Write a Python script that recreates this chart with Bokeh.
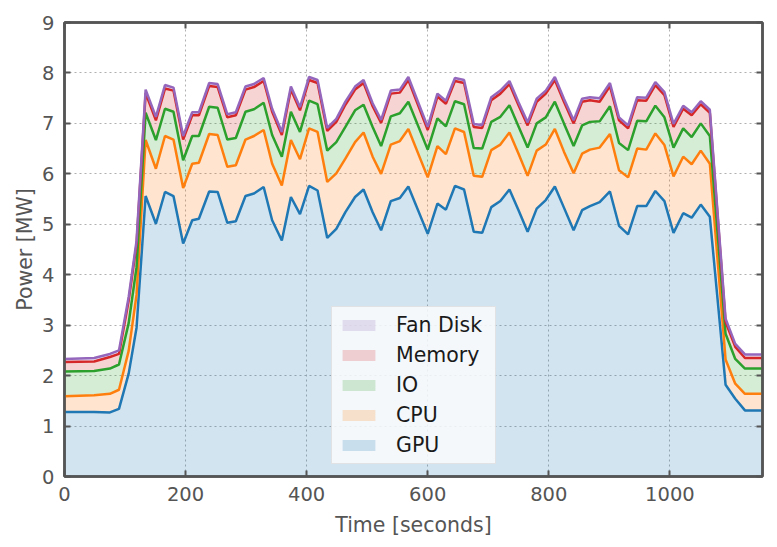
from bokeh.plotting import figure
from bokeh.models import ColumnDataSource, Legend, LegendItem, LinearAxis, SingleIntervalTicker, Range1d
from bokeh.embed import file_html
from bokeh.resources import INLINE

time_s = [0, 49, 75, 90, 106, 119, 134, 151, 166, 180, 196, 211, 222, 239, 253, 269, 283, 299, 313, 329,
          343, 359, 374, 389, 404, 418, 434, 449, 464, 480, 494, 509, 523, 539, 554, 568, 600, 616, 630, 645,
          660, 676, 690, 705, 720, 735, 750, 765, 780, 795, 810, 825, 841, 855, 868, 884, 901, 916, 931, 946,
          961, 976, 991, 1006, 1022, 1036, 1051, 1066, 1092, 1108, 1124, 1153]

gpu = [1.28, 1.28, 1.27, 1.34, 2.04, 2.95, 5.56, 5.01, 5.64, 5.56,
       4.62, 5.08, 5.11, 5.65, 5.64, 5.03, 5.06, 5.56, 5.61, 5.74,
       5.08, 4.68, 5.54, 5.20, 5.76, 5.67, 4.73, 4.91, 5.24, 5.54,
       5.69, 5.24, 4.88, 5.46, 5.52, 5.75, 4.81, 5.41, 5.29, 5.76,
       5.69, 4.85, 4.83, 5.34, 5.46, 5.69, 5.28, 4.85, 5.31, 5.48,
       5.75, 5.33, 4.88, 5.28, 5.36, 5.44, 5.65, 4.97, 4.80, 5.36,
       5.36, 5.66, 5.46, 4.83, 5.22, 5.13, 5.39, 5.15, 1.82, 1.54,
       1.31, 1.31]

cpu = [0.31, 0.33, 0.37, 0.38, 0.45, 0.65, 1.11, 1.09, 1.11, 1.12,
       1.10, 1.12, 1.11, 1.14, 1.13, 1.11, 1.11, 1.12, 1.14, 1.13,
       1.12, 1.09, 1.13, 1.09, 1.14, 1.16, 1.11, 1.10, 1.06, 1.09,
       1.13, 1.10, 1.12, 1.12, 1.13, 1.14, 1.12, 1.14, 1.10, 1.14,
       1.14, 1.11, 1.11, 1.13, 1.12, 1.13, 1.12, 1.11, 1.15, 1.10,
       1.14, 1.11, 1.13, 1.12, 1.12, 1.08, 1.14, 1.10, 1.13, 1.14,
       1.12, 1.14, 1.11, 1.12, 1.12, 1.06, 1.07, 1.05, 0.50, 0.30,
       0.33, 0.33]

io = [0.49, 0.48, 0.50, 0.50, 0.55, 0.55, 0.54, 0.57, 0.54, 0.55,
      0.55, 0.55, 0.53, 0.54, 0.54, 0.54, 0.54, 0.55, 0.53, 0.54,
      0.57, 0.57, 0.56, 0.54, 0.55, 0.55, 0.62, 0.62, 0.63, 0.63,
      0.55, 0.59, 0.55, 0.56, 0.55, 0.54, 0.55, 0.55, 0.55, 0.54,
      0.55, 0.55, 0.56, 0.56, 0.55, 0.54, 0.54, 0.56, 0.54, 0.54,
      0.54, 0.56, 0.54, 0.56, 0.55, 0.52, 0.55, 0.54, 0.54, 0.55,
      0.56, 0.55, 0.55, 0.57, 0.56, 0.54, 0.54, 0.55, 0.51, 0.49,
      0.50, 0.50]

memory = [0.19, 0.19, 0.23, 0.21, 0.45, 0.45, 0.39, 0.39, 0.40, 0.42,
          0.41, 0.41, 0.41, 0.41, 0.41, 0.44, 0.45, 0.44, 0.44, 0.43,
          0.46, 0.43, 0.44, 0.43, 0.41, 0.42, 0.39, 0.40, 0.44, 0.41,
          0.43, 0.41, 0.46, 0.45, 0.41, 0.43, 0.39, 0.43, 0.45, 0.40,
          0.42, 0.42, 0.41, 0.43, 0.46, 0.42, 0.42, 0.44, 0.43, 0.47,
          0.43, 0.43, 0.45, 0.47, 0.43, 0.39, 0.40, 0.45, 0.43, 0.41,
          0.41, 0.41, 0.44, 0.41, 0.39, 0.43, 0.38, 0.46, 0.23, 0.24,
          0.21, 0.21]

fan_disk = [0.06, 0.07, 0.06, 0.07, 0.07, 0.07, 0.07, 0.07, 0.07, 0.06,
            0.07, 0.06, 0.06, 0.06, 0.06, 0.06, 0.06, 0.06, 0.06, 0.06,
            0.06, 0.06, 0.06, 0.06, 0.06, 0.06, 0.06, 0.06, 0.06, 0.06,
            0.06, 0.06, 0.06, 0.06, 0.06, 0.06, 0.06, 0.06, 0.06, 0.06,
            0.06, 0.06, 0.06, 0.06, 0.06, 0.06, 0.06, 0.06, 0.06, 0.06,
            0.06, 0.06, 0.06, 0.06, 0.06, 0.07, 0.06, 0.06, 0.06, 0.06,
            0.06, 0.06, 0.06, 0.06, 0.06, 0.06, 0.06, 0.06, 0.07, 0.06,
            0.07, 0.07]

series_names = ["GPU", "CPU", "IO", "Memory", "Fan Disk"]
series_keys = ["gpu", "cpu", "io", "memory", "fan_disk"]
colors = ["#1f77b4", "#ff7f0e", "#2ca02c", "#d62728", "#9467bd"]

source = ColumnDataSource(dict(time=time_s, gpu=gpu, cpu=cpu, io=io, memory=memory, fan_disk=fan_disk))

FONT = "DejaVu Sans"
GRAY = "#555555"

p = figure(width=777, height=547, output_backend="svg", toolbar_location=None,
           x_range=Range1d(0, 1153), y_range=Range1d(0, 9),
           min_border_left=64, min_border_right=15, min_border_top=22, min_border_bottom=71)
p.background_fill_color = "white"
p.border_fill_color = "white"
p.outline_line_color = GRAY
p.outline_line_width = 2.5

areas = p.varea_stack(series_keys, x="time", color=colors, fill_alpha=0.2, source=source)
p.vline_stack(series_keys, x="time", color=colors, line_width=2.5, source=source)

xt = SingleIntervalTicker(interval=200)
yt = SingleIntervalTicker(interval=1)
p.xaxis.ticker = xt
p.yaxis.ticker = yt
p.xgrid.ticker = xt
p.ygrid.ticker = yt

for ax in (p.xaxis[0], p.yaxis[0]):
    ax.axis_line_color = GRAY
    ax.axis_line_width = 2.5
    ax.major_tick_line_color = GRAY
    ax.major_tick_line_width = 2
    ax.major_tick_in = 6
    ax.major_tick_out = 0
    ax.minor_tick_line_color = None
    ax.major_label_text_font = FONT
    ax.major_label_text_font_size = "19.5px"
    ax.major_label_text_color = GRAY
    ax.axis_label_text_font = FONT
    ax.axis_label_text_font_size = "20.5px"
    ax.axis_label_text_color = GRAY
    ax.axis_label_text_font_style = "normal"
    ax.major_label_standoff = 6

p.xaxis.axis_label = "Time [seconds]"
p.yaxis.axis_label = "Power [MW]"
p.xaxis.axis_label_standoff = 9
p.yaxis.axis_label_standoff = 2

for loc, tk in (("right", yt), ("above", xt)):
    ax = LinearAxis(ticker=tk)
    ax.axis_line_color = GRAY
    ax.axis_line_width = 2.5
    ax.major_tick_line_color = GRAY
    ax.major_tick_line_width = 2
    ax.major_tick_in = 6
    ax.major_tick_out = 0
    ax.minor_tick_line_color = None
    ax.major_label_text_font_size = "1px"
    ax.major_label_text_color = None
    ax.major_label_standoff = 0
    p.add_layout(ax, loc)

for g in (p.xgrid[0], p.ygrid[0]):
    g.grid_line_color = "#b0b0b0"
    g.grid_line_dash = "2 3"
    g.grid_line_width = 1

items = [LegendItem(label=n, renderers=[r]) for n, r in zip(series_names, areas)][::-1]
legend = Legend(items=items, location=(267, 12))
legend.label_text_font = FONT
legend.label_text_font_size = "20.5px"
legend.label_text_color = "#1a1a1a"
legend.glyph_width = 41
legend.glyph_height = 14
legend.label_standoff = 17
legend.label_height = 20
legend.label_width = 93
legend.spacing = 6
legend.padding = 6
legend.margin = 0
legend.background_fill_color = "#fafbfd"
legend.background_fill_alpha = 0.85
legend.border_line_color = "#cccccc"
legend.border_line_width = 1
p.add_layout(legend, "center")

open("out.html", "w").write(file_html(p, INLINE))
